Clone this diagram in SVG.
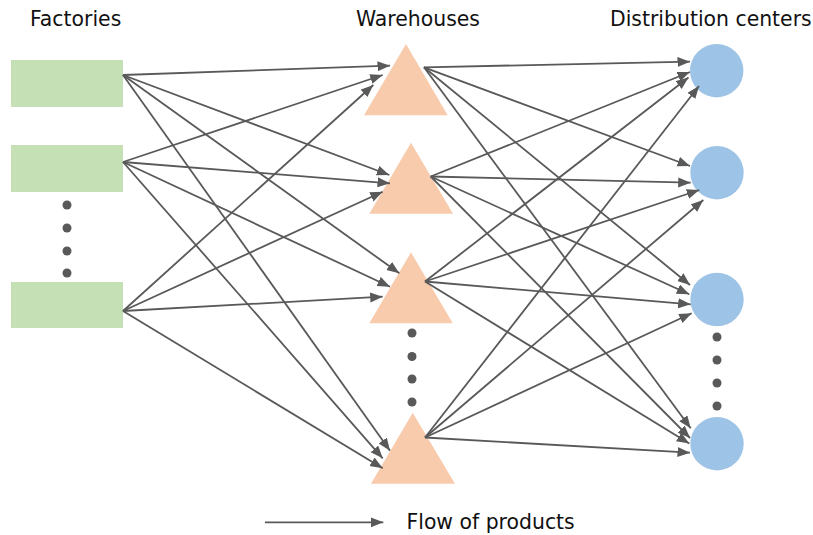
<svg xmlns="http://www.w3.org/2000/svg" width="813" height="535" viewBox="0 0 813 535">
<defs>
<style>
.lbl{font-family:"DejaVu Sans","Verdana",sans-serif;font-size:20.4px;fill:#111}
.fac{fill:#C5E0B4}
.wh{fill:#F8CBAD}
.dc{fill:#9DC3E6}
.dot{fill:#595959}
.cn line{stroke:#595959;stroke-width:1.8;marker-end:url(#ah)}
</style>
<marker id="ah" markerUnits="userSpaceOnUse" markerWidth="14" markerHeight="11" refX="12.5" refY="5" orient="auto">
<path d="M0,0 L12.5,5 L0,10 z" fill="#595959"/>
</marker>
</defs>
<rect width="813" height="535" fill="#fff"/>
<text class="lbl" x="30" y="26">Factories</text>
<text class="lbl" x="418" y="26" text-anchor="middle">Warehouses</text>
<text class="lbl" x="610" y="26">Distribution centers</text>

<g id="factory1"><rect class="fac" x="11" y="60" width="112" height="47"/></g>
<g id="factory2"><rect class="fac" x="11" y="145" width="112" height="47"/></g>
<g id="factory3"><rect class="fac" x="11" y="282" width="112" height="46"/></g>
<g id="factory-dots">
<circle class="dot" cx="67" cy="205" r="4.5"/><circle class="dot" cx="67" cy="228" r="4.5"/><circle class="dot" cx="67" cy="251" r="4.5"/><circle class="dot" cx="67" cy="273" r="4.5"/>
</g>

<g id="warehouse1"><polygon class="wh" points="406,44 364,115.3 447.7,115.3"/></g>
<g id="warehouse2"><polygon class="wh" points="411,142.7 369.3,213.7 453,213.7"/></g>
<g id="warehouse3"><polygon class="wh" points="411,252.3 369.3,323.3 452.7,323.3"/></g>
<g id="warehouse4"><polygon class="wh" points="412.7,412.7 371,483.7 455,483.7"/></g>
<g id="warehouse-dots">
<circle class="dot" cx="412" cy="333" r="4.5"/><circle class="dot" cx="412" cy="356.5" r="4.5"/><circle class="dot" cx="412" cy="379" r="4.5"/><circle class="dot" cx="412" cy="402" r="4.5"/>
</g>

<g id="dc1"><circle class="dc" cx="716.7" cy="70.7" r="26.7"/></g>
<g id="dc2"><circle class="dc" cx="717" cy="172.7" r="26.7"/></g>
<g id="dc3"><circle class="dc" cx="717" cy="299.5" r="26.7"/></g>
<g id="dc4"><circle class="dc" cx="717" cy="443.7" r="26.7"/></g>
<g id="dc-dots">
<circle class="dot" cx="717" cy="337" r="4.5"/><circle class="dot" cx="717" cy="360" r="4.5"/><circle class="dot" cx="717" cy="383" r="4.5"/><circle class="dot" cx="717" cy="406" r="4.5"/>
</g>

<g id="connectors" class="cn">
<line x1="123" y1="75" x2="390" y2="65.7"/>
<line x1="123" y1="162" x2="382.7" y2="75"/>
<line x1="123" y1="311" x2="373.3" y2="85"/>
<line x1="123" y1="75" x2="389.3" y2="175"/>
<line x1="123" y1="162" x2="390" y2="183.3"/>
<line x1="123" y1="311" x2="382.7" y2="191.7"/>
<line x1="123" y1="75" x2="399.3" y2="273.3"/>
<line x1="123" y1="162" x2="390" y2="286.7"/>
<line x1="123" y1="311" x2="382.7" y2="296.7"/>
<line x1="123" y1="75" x2="390" y2="450.7"/>
<line x1="123" y1="162" x2="382.7" y2="458.3"/>
<line x1="123" y1="311" x2="382.7" y2="468.3"/>

<line x1="424" y1="67.3" x2="690" y2="61.7"/>
<line x1="430.7" y1="176.5" x2="690" y2="72"/>
<line x1="425" y1="281.5" x2="688.5" y2="77.5"/>
<line x1="425" y1="437.5" x2="699" y2="86"/>

<line x1="424" y1="67.3" x2="690" y2="166"/>
<line x1="430.7" y1="176.5" x2="690.7" y2="182.7"/>
<line x1="425" y1="281.5" x2="699.3" y2="190"/>
<line x1="425" y1="437.5" x2="703.3" y2="200"/>

<line x1="424" y1="67.3" x2="690" y2="285"/>
<line x1="430.7" y1="176.5" x2="689.3" y2="294.3"/>
<line x1="425" y1="281.5" x2="690.7" y2="304.3"/>
<line x1="425" y1="437.5" x2="691.7" y2="313.3"/>

<line x1="424" y1="67.3" x2="690.7" y2="428.3"/>
<line x1="430.7" y1="176.5" x2="690" y2="438"/>
<line x1="425" y1="281.5" x2="689.3" y2="443.5"/>
<line x1="425" y1="437.5" x2="690" y2="452.7"/>
</g>

<g id="legend">
<g class="cn"><line x1="265" y1="522.3" x2="383.3" y2="522.3"/></g>
<text class="lbl" x="406.5" y="528.5">Flow of products</text>
</g>
</svg>
